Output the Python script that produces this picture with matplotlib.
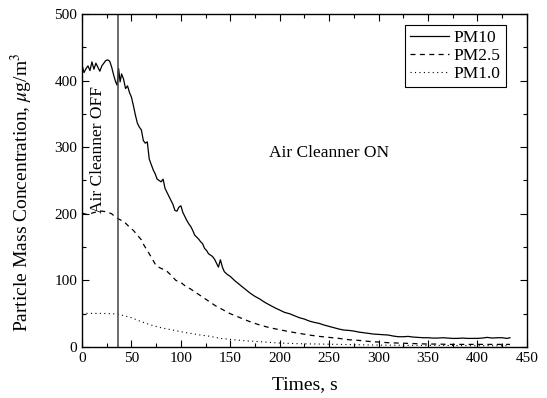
import matplotlib
matplotlib.use("Agg")
import matplotlib.pyplot as plt
from matplotlib.ticker import MultipleLocator

plt.rcParams['font.family'] = ['Liberation Serif', 'DejaVu Serif']
plt.rcParams['mathtext.fontset'] = 'stix'

# ---- data ----
pm10_t = [0, 2, 4, 6, 8, 10, 12, 14, 16, 18, 20, 22, 24, 26, 28, 30, 32, 34, 35.5, 37, 38.5,
          40, 42, 44, 46, 48, 50, 52, 54, 56, 58, 60, 62, 64, 66, 68, 70, 72, 74, 76, 78, 80,
          82, 84, 86, 88, 90, 92, 94, 96, 98, 100, 102, 104, 106, 108, 110, 112, 114, 116, 118,
          120, 122, 124, 126, 128, 130, 132, 134, 136, 138, 140, 142, 144, 147, 150, 155, 160,
          165, 170, 175, 180, 185, 190, 195, 200, 205, 210, 215, 220, 225, 230, 235, 240, 245,
          250, 255, 260, 265, 270, 275, 280, 285, 290, 295, 300, 305, 310, 315, 320, 325, 330,
          335, 340, 345, 350, 355, 360, 365, 370, 375, 380, 385, 390, 395, 400, 405, 410, 415,
          420, 425, 430, 433]
pm10 = [423, 412, 418, 422, 415, 428, 417, 426, 420, 414, 422, 426, 430, 431, 429, 420, 408, 398,
        393, 418, 398, 410, 402, 388, 392, 382, 375, 362, 348, 336, 330, 326, 310, 306, 308, 282,
        274, 266, 260, 252, 250, 248, 252, 238, 232, 226, 220, 214, 205, 204, 210, 212, 202, 196,
        190, 185, 181, 175, 168, 165, 162, 158, 155, 148, 145, 140, 138, 136, 132, 126, 120, 131,
        120, 113, 109, 106, 99, 93, 87, 81, 76, 72, 67, 63, 59, 55.5, 52, 50, 47, 44, 42, 39, 37,
        35.5, 33, 31, 29, 27, 25.5, 25, 24, 22.5, 21.5, 20.5, 19.5, 19, 18.5, 18, 16.5, 15.5,
        15.5, 16, 15, 14.5, 14, 14, 13.5, 13.5, 14, 13.5, 13, 13, 13.5, 13, 13, 13, 13.5, 14.5,
        13.5, 14, 14, 13, 14]

pm25_t = [0, 5, 10, 15, 20, 25, 30, 33, 36, 40, 44, 48, 52, 56, 60, 63, 66, 70, 75, 80, 85, 90,
          95, 100, 105, 110, 115, 120, 125, 130, 135, 140, 145, 150, 160, 170, 180, 190, 200,
          210, 220, 230, 240, 250, 260, 270, 280, 290, 300, 310, 320, 330, 340, 350, 360, 370,
          380, 390, 400, 410, 420, 433]
pm25 = [201, 199, 201, 203, 204, 203, 200, 196, 193, 190, 186, 180, 175, 168, 161, 152, 145, 135,
        122, 118, 115, 108, 100, 97, 91, 87, 82, 77, 72, 67, 62, 58, 54, 50, 44, 38, 33, 29, 26,
        23, 20.5, 18, 16, 14.5, 13, 11, 10, 8.5, 7.5, 6.5, 6, 5.5, 5, 4.5, 4.5, 4, 4, 4, 4, 4,
        4, 4]

pm1_t = [0, 10, 20, 30, 36, 40, 50, 60, 70, 80, 90, 100, 110, 120, 130, 140, 150, 160, 170, 180,
         190, 200, 220, 240, 260, 280, 300, 330, 360, 400, 433]
pm1 = [50.5, 50.5, 50.5, 50, 49.5, 48, 44, 38, 33, 29, 26, 23, 20.5, 18, 16, 13, 11.5, 10, 9, 8,
       7, 6, 5, 4.5, 4, 3.5, 3, 2.5, 2.5, 2, 2]

switch_time = 36

fig = plt.figure(figsize=(5.47, 3.98), dpi=100)
ax = fig.add_axes([0.150, 0.128, 0.813, 0.837])

ax.plot(pm10_t, pm10, color='black', lw=0.9, label='PM10')
ax.plot(pm25_t, pm25, color='black', lw=0.9, linestyle=(0, (4, 3.5)), label='PM2.5')
ax.plot(pm1_t, pm1, color='black', lw=0.8, linestyle=(0, (1, 3)), label='PM1.0')
ax.axvline(switch_time, color='#444444', lw=1.1)

ax.set_xlim(0, 450)
ax.set_ylim(0, 500)
ax.xaxis.set_major_locator(MultipleLocator(50))
ax.xaxis.set_minor_locator(MultipleLocator(25))
ax.yaxis.set_major_locator(MultipleLocator(100))
ax.yaxis.set_minor_locator(MultipleLocator(50))
ax.tick_params(which='both', direction='in', top=True, right=True, labelsize=11)
ax.tick_params(which='major', length=5, width=0.8)
ax.tick_params(which='minor', length=3, width=0.8)
for s in ax.spines.values():
    s.set_linewidth(1.0)

ax.set_xlabel('Times, s', fontsize=14, labelpad=8)
ax.set_ylabel(r'Particle Mass Concentration, $\mu$g/m$^3$', fontsize=14)
ax.yaxis.set_label_coords(-0.106, 0.465)

ax.text(250, 291, 'Air Cleanner ON', fontsize=12.5, ha='center', va='center')
ax.text(16, 297, 'Air Cleanner OFF', fontsize=12.5, ha='center', va='center', rotation=90)

leg = ax.legend(loc='upper right', bbox_to_anchor=(0.953, 0.967), borderaxespad=0,
                fontsize=12.5, frameon=True, fancybox=False, framealpha=1,
                edgecolor='black', handlelength=2.2, borderpad=0.3, labelspacing=0.1,
                handletextpad=0.3)
leg.get_frame().set_linewidth(0.8)

fig.savefig('out.png', dpi=100)
